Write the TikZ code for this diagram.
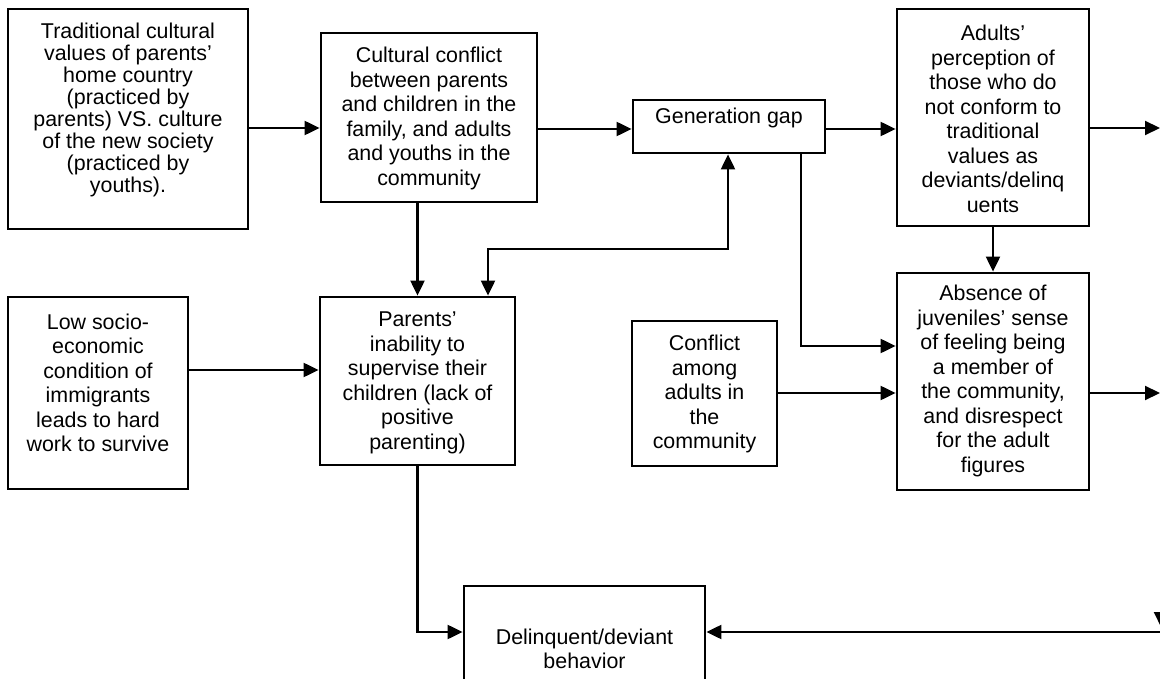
\documentclass[tikz,border=0pt]{standalone}
\usepackage{fontspec}
\setmainfont{Liberation Sans}
\usetikzlibrary{arrows.meta}
\begin{document}
\begin{tikzpicture}[x=1pt,y=-1pt,
  box/.style={draw=black, line width=2.8pt, inner sep=0pt, fill=white},
  txt/.style={align=center, inner sep=0pt, font=\fontsize{21.4}{24.5}\selectfont},
  tighttxt/.style={align=center, inner sep=0pt, font=\fontsize{21.4}{22}\selectfont},
  conn/.style={line width=2.1pt, -{Triangle[length=15pt,width=14pt]}},
  bothconn/.style={line width=2.1pt, {Triangle[length=15pt,width=14pt]}-{Triangle[length=15pt,width=14pt]}}]
\useasboundingbox (0,0) rectangle (1160,679);
\clip (0,0) rectangle (1160,679);

% boxes
\node[box, minimum width=240pt, minimum height=220pt] (A) at (128,119) {};
\node[tighttxt] (At) at (128,110) {Traditional cultural\\values of parents’\\home country\\(practiced by\\parents) VS. culture\\of the new society\\(practiced by\\youths).};

\node[box, minimum width=216pt, minimum height=169pt] (B) at (429,117.5) {};
\node[txt] (Bt) at (429,118.5) {Cultural conflict\\between parents\\and children in the\\family, and adults\\and youths in the\\community};

\node[box, minimum width=192pt, minimum height=53pt] (C) at (729,126.5) {};
\node[txt] (Ct) at (729,118) {Generation gap};

\node[box, minimum width=192pt, minimum height=217pt] (D) at (993,117.5) {};
\node[txt] (Dt) at (993,119) {Adults’\\perception of\\those who do\\not conform to\\traditional\\values as\\deviants/delinq\\uents};

\node[box, minimum width=192pt, minimum height=217pt] (E) at (993,381.5) {};
\node[txt] (Et) at (993,381) {Absence of\\juveniles’ sense\\of feeling being\\a  member of\\the community,\\and  disrespect\\for the adult\\figures};

\node[box, minimum width=145pt, minimum height=145pt] (F) at (704.5,393.5) {};
\node[txt] (Ft) at (704.5,394) {Conflict\\among\\adults in\\the\\community};

\node[box, minimum width=180pt, minimum height=192pt] (L) at (98,393) {};
\node[txt] (Lt) at (98,383) {Low socio-\\economic\\condition of\\immigrants\\leads to hard\\work to survive};

\node[box, minimum width=195pt, minimum height=168pt] (P) at (417.5,381) {};
\node[txt] (Pt) at (417.5,383) {Parents’\\inability to\\supervise their\\children (lack of\\positive\\parenting)};

\node[box, minimum width=241pt, minimum height=126pt] (G) at (584.5,649) {};
\node[txt] (Gt) at (584.5,649) {Delinquent/deviant\\behavior};

% free ends
\coordinate (o1) at (1160,128);
\coordinate (o2) at (1160,393);
\coordinate (o3) at (1160,632);
\coordinate (o4a) at (1161,560);
\coordinate (o4b) at (1161,627);

% connectors
\draw[conn] (A.east |- 0,128) -- (B.west |- 0,128);
\draw[conn] (B.east |- 0,129) -- (C.west |- 0,129);
\draw[conn] (C.east |- 0,129) -- (D.west |- 0,129);
\draw[conn] (D.east |- o1) -- (o1);
\draw[conn] (P.north |- B.south) -- (P.north);
\draw[bothconn] (P.north -| 488,0) -- (488,249) -- (728,249) -- (C.south -| 728,0);
\draw[conn] (C.south -| 801,0) -- (801,346) -- (E.west |- 0,346);
\draw[conn] (D.south) -- (E.north);
\draw[conn] (F.east |- 0,393) -- (E.west |- 0,393);
\draw[conn] (E.east |- o2) -- (o2);
\draw[conn] (L.east |- 0,370) -- (P.west |- 0,370);
\draw[conn] (P.south) -- (P.south |- 0,632) -- (G.west |- 0,632);
\draw[conn] (o3) -- (G.east |- o3);
\draw[conn] (o4a) -- (o4b);
\end{tikzpicture}
\end{document}
